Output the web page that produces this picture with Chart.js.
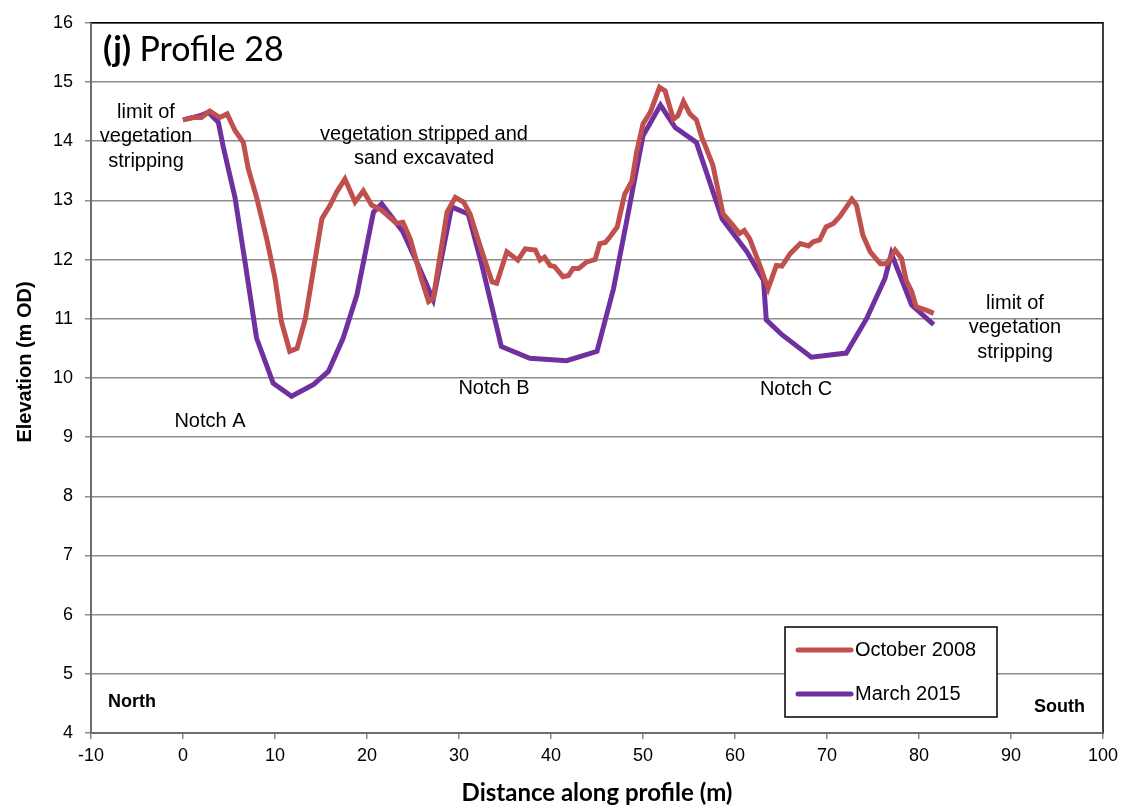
<!DOCTYPE html>
<html>
<head>
<meta charset="utf-8">
<title>Profile 28</title>
<script src="https://cdn.jsdelivr.net/npm/chart.js@4/dist/chart.umd.min.js"></script>
<style>
  html, body { margin: 0; padding: 0; background: #fff; }
  canvas { display: block; }
</style>
</head>
<body>
<canvas id="profileChart" width="1125" height="808"></canvas>
<script>
// October 2008 survey (distance m, elevation m OD)
const oct2008X = [0, 1.1, 2.0, 2.9, 4.0, 4.8, 5.65, 6.55, 7.1, 8.0, 9.1, 10.0, 10.7, 11.6, 12.4, 13.3, 14.2, 15.1, 16.0, 16.7, 17.6, 18.7, 19.6, 20.5, 21.6, 23.2, 23.9, 24.7, 25.9, 26.7, 27.2, 28.7, 29.6, 30.5, 31.2, 32.5, 33.6, 34.1, 35.2, 36.4, 37.2, 38.3, 38.8, 39.3, 39.9, 40.4, 41.3, 41.9, 42.4, 43.0, 43.9, 44.8, 45.3, 45.9, 46.4, 47.2, 48.0, 48.8, 49.3, 50.0, 50.8, 51.8, 52.4, 53.3, 53.8, 54.4, 55.1, 55.8, 56.4, 56.9, 57.6, 58.7, 59.6, 60.5, 61.0, 61.6, 62.7, 63.6, 64.5, 65.1, 66.0, 67.1, 68.0, 68.5, 69.2, 69.9, 70.7, 71.4, 72.7, 73.2, 73.9, 74.7, 75.8, 76.5, 77.4, 78.1, 78.6, 79.2, 79.7, 80.7, 81.6];
const oct2008Y = [14.36, 14.40, 14.40, 14.51, 14.40, 14.46, 14.18, 13.98, 13.53, 13.05, 12.35, 11.68, 10.95, 10.45, 10.50, 11.00, 11.85, 12.69, 12.92, 13.14, 13.36, 12.97, 13.16, 12.92, 12.83, 12.61, 12.63, 12.35, 11.68, 11.29, 11.34, 12.80, 13.05, 12.97, 12.77, 12.13, 11.62, 11.60, 12.13, 11.99, 12.18, 12.16, 11.99, 12.04, 11.90, 11.88, 11.71, 11.73, 11.85, 11.85, 11.96, 12.00, 12.27, 12.29, 12.38, 12.55, 13.10, 13.33, 13.81, 14.29, 14.49, 14.91, 14.85, 14.37, 14.43, 14.67, 14.46, 14.36, 14.06, 13.87, 13.59, 12.77, 12.61, 12.44, 12.49, 12.35, 11.90, 11.51, 11.90, 11.89, 12.10, 12.27, 12.23, 12.30, 12.33, 12.55, 12.61, 12.73, 13.02, 12.92, 12.41, 12.13, 11.93, 11.93, 12.16, 12.02, 11.65, 11.46, 11.20, 11.15, 11.09];

// March 2015 survey
const mar2015X = [0, 1.85, 2.75, 3.84, 4.38, 5.65, 6.74, 8.0, 9.8, 11.8, 14.2, 15.8, 17.4, 18.9, 20.7, 21.6, 23.9, 25.4, 27.2, 29.2, 31.0, 32.5, 34.6, 37.7, 41.7, 45.0, 46.8, 48.2, 50.0, 51.9, 53.5, 55.8, 58.6, 61.3, 63.1, 63.4, 65.1, 68.3, 72.1, 74.3, 76.3, 77.0, 79.2, 81.6];
const mar2015Y = [14.36, 14.43, 14.49, 14.32, 13.90, 13.05, 11.96, 10.67, 9.91, 9.69, 9.89, 10.11, 10.67, 11.40, 12.80, 12.94, 12.47, 11.96, 11.32, 12.89, 12.77, 11.90, 10.53, 10.33, 10.29, 10.45, 11.51, 12.63, 14.09, 14.61, 14.23, 13.98, 12.69, 12.13, 11.65, 10.98, 10.73, 10.35, 10.42, 11.00, 11.68, 12.10, 11.23, 10.90];

const seriesLabels = ['October 2008', 'March 2015'];
const seriesColors = ['#C0504D', '#7030A0'];

const xTickMin = -10, xTickMax = 100, xStep = 10;
const yTickMin = 4, yTickMax = 16, yStep = 1;

// free text in the plot (pixel anchors, centre aligned)
const notes = [
  { lines: ['limit of', 'vegetation', 'stripping'], x: 146, y: 112 },
  { lines: ['vegetation stripped and', 'sand excavated'], x: 424, y: 134 },
  { lines: ['Notch A'], x: 210, y: 421 },
  { lines: ['Notch B'], x: 494, y: 388 },
  { lines: ['Notch C'], x: 796, y: 389 },
  { lines: ['limit of', 'vegetation', 'stripping'], x: 1015, y: 303 }
];

const toPoints = (xs, ys) => xs.map((x, i) => ({ x, y: ys[i] }));

const decorPlugin = {
  id: 'decor',
  beforeDatasetsDraw(chart) {
    const { ctx, chartArea: a } = chart;
    ctx.save();
    ctx.strokeStyle = '#000';
    ctx.lineWidth = 1.5;
    ctx.strokeRect(a.left, a.top, a.right - a.left, a.bottom - a.top);
    // axis lines on top of the frame
    ctx.strokeStyle = '#868686';
    ctx.beginPath();
    ctx.moveTo(a.left, a.top);
    ctx.lineTo(a.left, a.bottom);
    ctx.lineTo(a.right, a.bottom);
    ctx.stroke();
    ctx.restore();
  },
  afterDatasetsDraw(chart) {
    const { ctx, chartArea: a } = chart;
    ctx.save();
    ctx.fillStyle = '#000';
    ctx.textAlign = 'center';
    ctx.textBaseline = 'middle';
    ctx.font = '20px "Liberation Sans", Arial, sans-serif';
    notes.forEach(n => {
      n.lines.forEach((t, i) => ctx.fillText(t, n.x, n.y + i * 24.5));
    });

    // panel title
    ctx.textAlign = 'left';
    ctx.font = 'bold 34px Lato, sans-serif';
    ctx.fillText('(j)', a.left + 12, 50);
    const w = ctx.measureText('(j) ').width;
    ctx.font = '34px Lato, sans-serif';
    ctx.fillText('Profile 28', a.left + 12 + w, 50);

    ctx.font = 'bold 18px "Liberation Sans", Arial, sans-serif';
    ctx.fillText('North', 108, 702);
    ctx.textAlign = 'right';
    ctx.fillText('South', 1085, 707);

    // y axis title
    ctx.save();
    ctx.translate(25, 362);
    ctx.rotate(-Math.PI / 2);
    ctx.textAlign = 'center';
    ctx.font = 'bold 20px "Liberation Sans", Arial, sans-serif';
    ctx.fillText('Elevation (m OD)', 0, 0);
    ctx.restore();

    // legend
    const lx = 785, ly = 627, lw = 212, lh = 90;
    ctx.fillStyle = '#fff';
    ctx.fillRect(lx, ly, lw, lh);
    ctx.strokeStyle = '#000';
    ctx.lineWidth = 1.5;
    ctx.strokeRect(lx, ly, lw, lh);
    ctx.textAlign = 'left';
    ctx.font = '20px "Liberation Sans", Arial, sans-serif';
    chart.data.datasets.forEach((ds, i) => {
      const yy = ly + 23 + i * 44;
      ctx.strokeStyle = ds.borderColor;
      ctx.lineWidth = 5;
      ctx.lineCap = 'round';
      ctx.beginPath();
      ctx.moveTo(lx + 13, yy);
      ctx.lineTo(lx + 66, yy);
      ctx.stroke();
      ctx.fillStyle = '#000';
      ctx.fillText(ds.label, lx + 70, yy);
    });
    ctx.restore();
  }
};

const tickFont = { family: '"Liberation Sans", Arial, sans-serif', size: 18 };
const titleFont = { family: 'Lato, sans-serif', size: 24, weight: 'bold' };

new Chart(document.getElementById('profileChart'), {
  type: 'line',
  data: {
    datasets: [
      {
        label: seriesLabels[0],
        data: toPoints(oct2008X, oct2008Y),
        borderColor: seriesColors[0],
        borderWidth: 5,
        pointRadius: 0,
        tension: 0,
        fill: false
      },
      {
        label: seriesLabels[1],
        data: toPoints(mar2015X, mar2015Y),
        borderColor: seriesColors[1],
        borderWidth: 5,
        pointRadius: 0,
        tension: 0,
        fill: false
      }
    ]
  },
  options: {
    responsive: false,
    animation: false,
    layout: { padding: { top: 20, right: 22, left: 0, bottom: 0 } },
    plugins: { legend: { display: false }, tooltip: { enabled: false } },
    scales: {
      x: {
        type: 'linear',
        min: xTickMin,
        max: xTickMax,
        ticks: { stepSize: xStep, color: '#000', font: tickFont, padding: 6, maxRotation: 0 },
        grid: { drawOnChartArea: false, tickLength: 6, color: '#868686', lineWidth: 1.5 },
        border: { color: '#868686', width: 1.5 },
        title: { display: true, text: 'Distance along profile (m)', color: '#000', font: titleFont, padding: { top: 0, bottom: 0 } },
        afterFit: s => { s.height = 75; }
      },
      y: {
        min: yTickMin,
        max: yTickMax,
        ticks: { stepSize: yStep, color: '#000', font: tickFont, padding: 12 },
        grid: { color: '#8c8c8c', lineWidth: 1.5, tickLength: 6 },
        border: { color: '#868686', width: 1.5 },
        title: { display: false },
        afterFit: s => { s.width = 91; }
      }
    }
  },
  plugins: [decorPlugin]
});
</script>
</body>
</html>
